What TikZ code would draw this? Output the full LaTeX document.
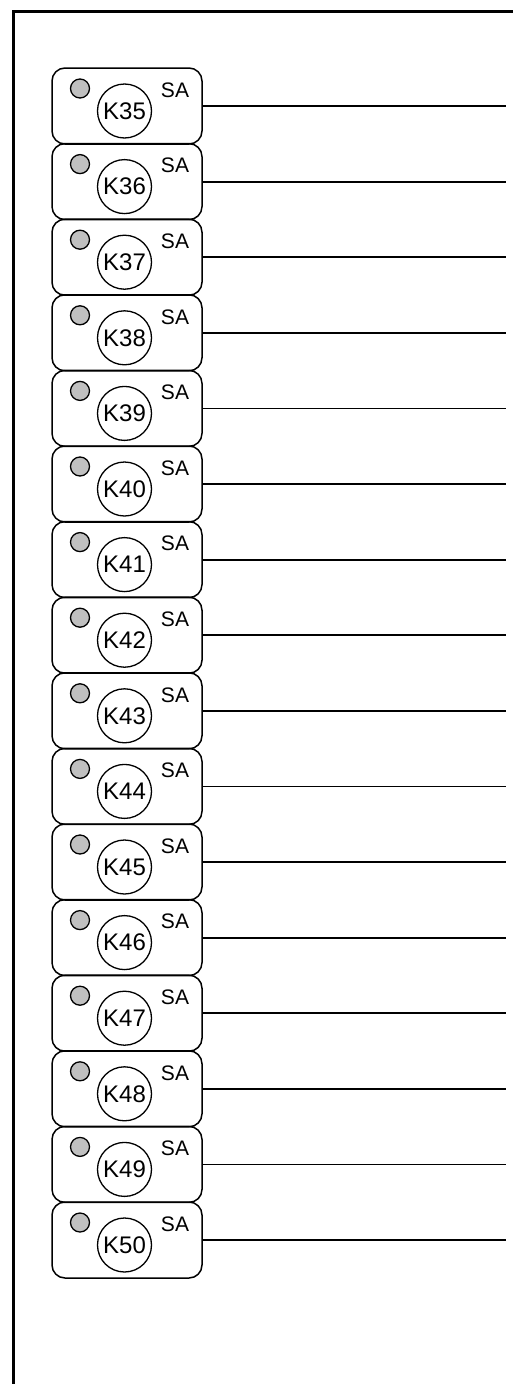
\documentclass[tikz,border=0pt]{standalone}
\usepackage{fontspec}
\setmainfont{Liberation Sans}
\definecolor{lampgray}{HTML}{C0C0C0}

\begin{document}
\begin{tikzpicture}[x=1pt, y=-1pt,
                    box/.style={draw, rectangle, rounded corners=13pt, minimum width=150pt, minimum height=76pt, line width=1.5pt},
                    relay/.style={draw, circle, align=center, inner sep=0pt, minimum size=54pt, line width=1.3pt, font=\fontsize{24}{24}\selectfont},
                    lamp/.style={draw, circle, fill=lampgray, inner sep=0pt, minimum size=19pt, line width=1.3pt},
                    tag/.style={inner sep=0pt, font=\fontsize{21}{21}\selectfont},
                    wire/.style={line width=1.8pt}]

\useasboundingbox (0,0) rectangle (513,1384);
\draw [line width=3pt] (13,1390) |- (520,11);

\foreach \n [count=\i from 0] in {35,...,50} {
  \pgfmathsetmacro\y{106+75.6*\i}
  \node [box] (b\n) at (127,\y) {};
  \node [relay] (k\n) at (124.5,\y+5) {K\n};
  \node [lamp] (d\n) at (80,\y-17.5) {};
  \node [tag] (s\n) at (175,\y-16) {SA};
  \coordinate (e\n) at (506,\y);
  \draw [wire] (b\n.east) -- (e\n);
}
\end{tikzpicture}
\end{document}
